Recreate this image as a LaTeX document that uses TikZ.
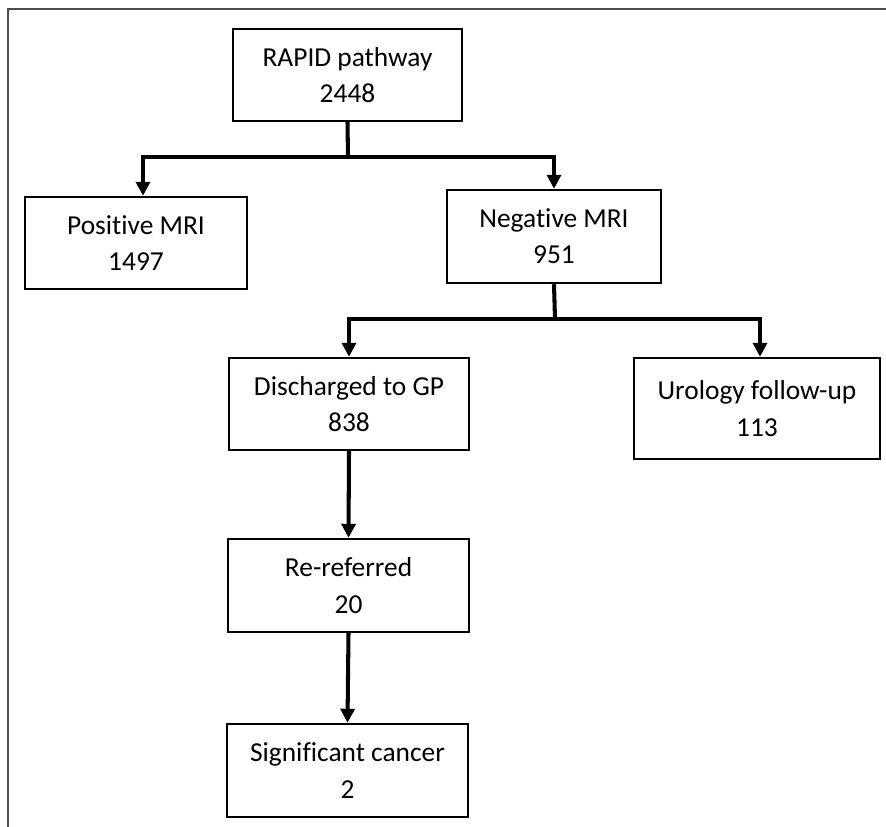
\documentclass[tikz,border=0pt]{standalone}
\usepackage{fontspec}
\setmainfont{Carlito}[Ligatures=NoCommon]
\usetikzlibrary{arrows.meta,positioning}

\begin{document}
\begin{tikzpicture}[
    x=0.02cm, y=-0.02cm,
    >={Triangle[length=0.28cm,width=0.28cm]},
    box/.style={rectangle, draw, line width=1.4pt, align=center, inner sep=0pt, font=\fontsize{15.6}{20.6}\selectfont},
    link/.style={line width=2.3pt},
    frame/.style={draw=black!70, line width=1.5pt}
]
\useasboundingbox (0,0) rectangle (886,827);
% Marco (solo lados superior e izquierdo)
\draw[frame] (8,827) -- (8,9) -- (886,9);
% Nivel 1
\node[box, minimum width=4.58cm, minimum height=1.84cm] (rapid) at (347.5,75) {RAPID pathway\\2448};
% Nivel 2
\node[box, minimum width=4.44cm, minimum height=1.84cm] (pos) at (136,243) {Positive MRI\\1497};
\node[box, minimum width=4.28cm, minimum height=1.86cm] (neg) at (554,236.5) {Negative MRI\\951};
% Nivel 3
\node[box, minimum width=4.80cm, minimum height=1.84cm] (dis) at (349,404) {Discharged to GP\\838};
\node[box, minimum width=4.92cm, minimum height=2.02cm] (uro) at (757,408.5) {Urology follow-up\\113};
% Nivel 4 y 5
\node[box, minimum width=4.82cm, minimum height=1.86cm] (rer) at (348.5,585.5) {Re-referred\\20};
\node[box, minimum width=4.82cm, minimum height=1.86cm] (sig) at (347.5,770.5) {Significant cancer\\2};

% Puntos de bifurcacion
\coordinate (split1) at (348,157);
\coordinate (split2) at (555,319);

% Conexiones
\draw[link] (rapid.south) -- (split1);
\draw[link, ->] (split1) -| ([xshift=0.14cm]pos.north);
\draw[link, ->] (split1) -| (neg.north);
\draw[link] (neg.south) -- (split2);
\draw[link, ->] (split2) -| (dis.north);
\draw[link, ->] (split2) -| ([xshift=0.06cm]uro.north);
\draw[link, ->] (dis.south) -- (rer.north);
\draw[link, ->] (rer.south) -- (sig.north);
\end{tikzpicture}
\end{document}
